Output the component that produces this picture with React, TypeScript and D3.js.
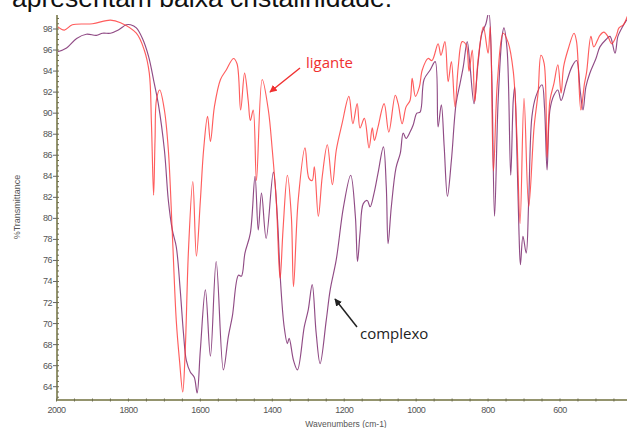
import React from "react";
import * as d3 from "d3";

const W = 627;
const H = 428;

const xTicks = [2000, 1800, 1600, 1400, 1200, 1000, 800, 600];
const yTicks = [64, 66, 68, 70, 72, 74, 76, 78, 80, 82, 84, 86, 88, 90, 92, 94, 96, 98];

// ligante (red): [wavenumber, %T]
const liganteWn = [2000, 1978, 1956, 1900, 1850, 1822, 1778, 1756, 1742, 1736, 1730, 1726, 1722, 1713, 1700, 1689, 1678, 1667, 1658, 1649, 1642, 1633, 1621, 1611, 1600, 1591, 1580, 1572, 1561, 1544, 1528, 1508, 1498, 1488, 1477, 1467, 1461, 1453, 1444, 1428, 1411, 1400, 1389, 1381, 1378, 1370, 1358, 1347, 1341, 1328, 1309, 1298, 1289, 1283, 1272, 1261, 1247, 1233, 1222, 1206, 1187, 1176, 1164, 1156, 1144, 1131, 1122, 1116, 1106, 1089, 1076, 1058, 1050, 1039, 1028, 1017, 1011, 1002, 991, 983, 967, 956, 939, 931, 920, 911, 902, 892, 883, 872, 861, 853, 844, 837, 828, 813, 800, 794, 785, 774, 758, 744, 730, 720, 711, 700, 687, 672, 661, 653, 644, 636, 628, 617, 606, 597, 590, 578, 561, 554, 542, 532, 526, 514, 506, 489, 478, 467, 456, 444, 436, 424, 413];
const liganteT = [98.3, 97.9, 98.4, 98.5, 98.85, 98.6, 97.6, 96.0, 93.8, 89.0, 82.2, 87.5, 91.3, 92.2, 90.3, 86.5, 78.6, 70.3, 66.5, 63.5, 67.5, 77.0, 83.5, 76.4, 81.7, 86.5, 89.7, 87.3, 90.6, 93.2, 94.1, 95.2, 94.7, 90.3, 93.8, 91.2, 89.3, 90.3, 83.6, 93.2, 90.3, 86.5, 81.7, 75.4, 74.3, 79.0, 84.1, 80.2, 73.5, 81.7, 86.7, 83.8, 83.6, 84.9, 80.2, 84.0, 87.0, 83.2, 86.5, 89.0, 91.6, 89.0, 90.9, 88.6, 89.5, 86.7, 88.6, 87.4, 88.7, 90.9, 88.2, 91.7, 90.9, 89.0, 90.6, 91.2, 93.3, 91.6, 92.5, 94.1, 95.2, 95.0, 96.6, 95.5, 96.8, 93.0, 94.9, 90.6, 94.4, 96.8, 96.5, 94.0, 96.0, 91.1, 95.0, 98.2, 95.7, 98.2, 84.5, 93.0, 97.6, 96.7, 94.0, 88.0, 79.5, 91.4, 81.1, 88.7, 91.9, 95.5, 94.7, 85.8, 91.2, 92.8, 94.6, 91.9, 94.4, 96.0, 97.6, 96.8, 90.3, 92.8, 93.9, 97.3, 96.3, 97.4, 97.7, 97.3, 96.6, 97.3, 98.1, 98.4, 99.2];

// complexo (purple): [wavenumber, %T]
const complexoWn = [2000, 1972, 1944, 1917, 1889, 1872, 1850, 1828, 1806, 1794, 1778, 1761, 1744, 1728, 1717, 1700, 1689, 1678, 1667, 1656, 1647, 1639, 1628, 1617, 1609, 1600, 1586, 1572, 1556, 1536, 1522, 1511, 1494, 1486, 1476, 1461, 1448, 1439, 1430, 1417, 1397, 1386, 1378, 1367, 1358, 1353, 1341, 1330, 1311, 1300, 1289, 1278, 1267, 1250, 1239, 1222, 1202, 1182, 1169, 1163, 1156, 1147, 1136, 1128, 1117, 1106, 1091, 1083, 1078, 1069, 1056, 1044, 1036, 1028, 1017, 1008, 998, 989, 978, 961, 947, 939, 930, 922, 913, 902, 889, 878, 869, 858, 850, 839, 828, 817, 806, 798, 790, 782, 772, 761, 756, 747, 737, 730, 726, 720, 714, 710, 703, 694, 687, 678, 667, 650, 643, 636, 628, 617, 606, 597, 583, 567, 554, 544, 536, 528, 517, 500, 489, 472, 461, 447, 439, 428, 414];
const complexoT = [95.8, 96.2, 97.1, 97.5, 97.4, 97.6, 97.6, 97.9, 98.4, 98.4, 98.1, 97.1, 95.4, 92.8, 90.9, 86.5, 81.7, 78.9, 77.3, 73.2, 69.1, 66.5, 65.4, 64.9, 63.4, 67.5, 73.2, 66.9, 75.9, 65.6, 68.8, 70.7, 74.6, 74.5, 76.7, 78.6, 84.0, 78.9, 82.4, 78.1, 84.4, 80.2, 74.5, 69.7, 68.1, 68.6, 66.5, 65.6, 69.7, 71.3, 73.7, 69.1, 66.2, 70.3, 73.2, 76.1, 81.1, 84.1, 80.2, 75.9, 78.6, 81.4, 81.7, 81.1, 82.4, 84.3, 86.8, 83.0, 77.6, 81.1, 84.8, 86.2, 88.1, 87.6, 88.2, 88.9, 90.0, 90.1, 93.2, 94.1, 94.9, 88.7, 90.8, 86.8, 82.1, 85.5, 90.9, 92.8, 94.4, 96.8, 94.4, 90.9, 94.7, 97.6, 98.5, 99.6, 94.0, 80.2, 91.2, 97.3, 98.1, 96.0, 84.1, 91.2, 92.5, 86.5, 78.6, 75.6, 78.3, 76.7, 81.7, 89.7, 91.6, 92.7, 90.5, 84.6, 90.3, 91.7, 92.2, 91.2, 92.8, 94.4, 95.0, 92.2, 90.3, 92.5, 93.8, 95.2, 96.3, 97.0, 97.3, 95.7, 97.3, 98.1, 98.9];

const M = { left: 57, top: 15, bottom: 400 };
const x = d3.scaleLinear().domain([2000, 600]).range([56.5, 560]);
const y = d3.scaleLinear().domain([98, 64]).range([29, 386.7]);

const line = d3
  .line<[number, number]>()
  .x((d) => x(d[0]))
  .y((d) => y(d[1]))
  .curve(d3.curveCatmullRom.alpha(0.5));

const ligantePts: [number, number][] = liganteWn.map((w, i) => [w, liganteT[i]]);
const complexoPts: [number, number][] = complexoWn.map((w, i) => [w, complexoT[i]]);

const axisColor = "#94946e";
const labelColor = "#555";

export default function App() {
  const xMinor = d3.range(2000, 399, -50);
  const yMinor = d3.range(63, 99.5, 0.5);
  return (
    <div style={{ position: "fixed", left: 0, top: 0 }}>
      <svg width={W} height={H} style={{ display: "block", background: "#fff" }}>
        <defs>
          <clipPath id="plot">
            <rect x={M.left} y={M.top} width={W - M.left} height={M.bottom - M.top} />
          </clipPath>
          <marker id="arrRed" viewBox="0 0 10 10" refX="9" refY="5" markerWidth="5" markerHeight="5" orient="auto">
            <path d="M0,0 L10,5 L0,10 z" fill="#f03030" />
          </marker>
          <marker id="arrBlk" viewBox="0 0 10 10" refX="9" refY="5" markerWidth="5" markerHeight="5" orient="auto">
            <path d="M0,0 L10,5 L0,10 z" fill="#222" />
          </marker>
        </defs>

        <text x={12} y={7} fontFamily="Liberation Sans, Arial, sans-serif" fontSize={26.5} fill="#111">
          apresentam baixa cristalinidade.
        </text>

        <g clipPath="url(#plot)">
          <path d={line(complexoPts) || ""} fill="none" stroke="#7d2c70" strokeOpacity={0.85} strokeWidth={1.15} />
          <path d={line(ligantePts) || ""} fill="none" stroke="#ff3535" strokeOpacity={0.8} strokeWidth={1.15} />
        </g>

        {/* axes */}
        <line x1={M.left} y1={M.top} x2={M.left} y2={M.bottom} stroke={axisColor} strokeWidth={2} />
        <line x1={M.left} y1={M.bottom} x2={W} y2={M.bottom} stroke={axisColor} strokeWidth={2} />

        {yMinor.map((v) => (
          <line key={"ym" + v} x1={M.left} x2={M.left + 2} y1={y(v)} y2={y(v)} stroke="#6e6e50" strokeWidth={1} />
        ))}
        {yTicks.map((v) => (
          <g key={"yt" + v}>
            <line x1={M.left - 4} x2={M.left} y1={y(v)} y2={y(v)} stroke="#666" strokeWidth={1} />
            <text x={M.left - 5} y={y(v) + 3} textAnchor="end" fontFamily="Liberation Sans, Arial, sans-serif" fontSize={9} fill={labelColor} letterSpacing={-0.5}>
              {v}
            </text>
          </g>
        ))}

        {xMinor.map((v) => (
          <line key={"xm" + v} x1={x(v)} x2={x(v)} y1={M.bottom - 1.5} y2={M.bottom + 1.5} stroke="#6e6e50" strokeWidth={1} />
        ))}
        {xTicks.map((v) => (
          <text key={"xt" + v} x={x(v)} y={413} textAnchor="middle" fontFamily="Liberation Sans, Arial, sans-serif" fontSize={9} fill={labelColor} letterSpacing={-0.5}>
            {v}
          </text>
        ))}

        <text x={346} y={427} textAnchor="middle" fontFamily="Liberation Sans, Arial, sans-serif" fontSize={8.5} fill={labelColor}>
          Wavenumbers (cm-1)
        </text>
        <text transform="translate(20,207) rotate(-90)" textAnchor="middle" fontFamily="Liberation Sans, Arial, sans-serif" fontSize={9} fill={labelColor}>
          %Transmittance
        </text>

        {/* annotations */}
        <line x1={300} y1={68} x2={270} y2={92} stroke="#f03030" strokeWidth={1.5} markerEnd="url(#arrRed)" />
        <text x={306} y={68} fontFamily="Open Sans, Noto Sans, sans-serif" fontSize={15} fill="#f03030">
          ligante
        </text>
        <line x1={357} y1={327} x2={335} y2={299} stroke="#222" strokeWidth={1.5} markerEnd="url(#arrBlk)" />
        <text x={360} y={339} fontFamily="Open Sans, Noto Sans, sans-serif" fontSize={15} fill="#222">
          complexo
        </text>
      </svg>
    </div>
  );
}
